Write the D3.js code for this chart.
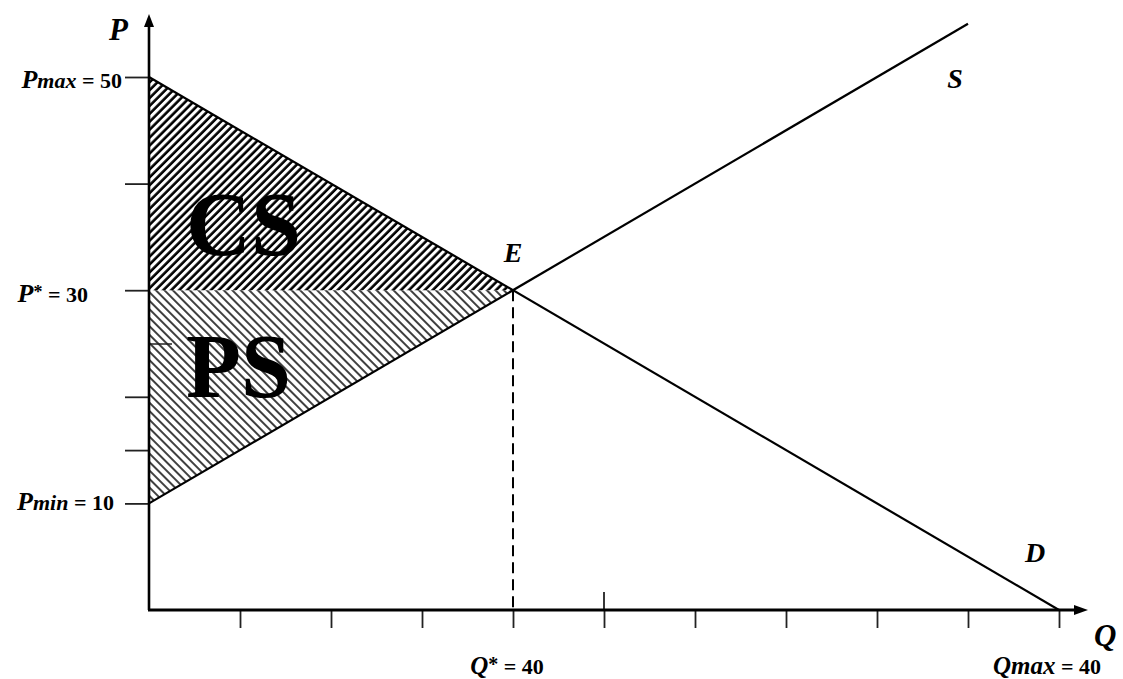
<!DOCTYPE html>
<html>
<head>
<meta charset="utf-8">
<script src="https://cdn.jsdelivr.net/npm/d3@7"></script>
<style>
  body { margin: 0; background: #fff; }
  svg { display: block; }
  text { font-family: "Liberation Serif", "DejaVu Serif", serif; fill: #000; }
</style>
</head>
<body>
<div id="chart"></div>
<script>
// 1: DATA
const demandLine = [{ q: 0, p: 50 }, { q: 100, p: 0 }];
const supplyLine = [{ q: 0, p: 10 }, { q: 90, p: 55 }];
const equilibrium = { q: 40, p: 30 };
const qTicks = [10, 20, 30, 40, 50, 60, 70, 80, 90, 100];
const pTicksOuter = [50, 40, 30, 20, 15, 10];
const pTicksInner = [25];
const csArea = [{ q: 0, p: 50 }, { q: 40, p: 30 }, { q: 0, p: 30 }];
const psArea = [{ q: 0, p: 30 }, { q: 40, p: 30 }, { q: 0, p: 10 }];

// 2: SIZE + SCALES
const width = 1123, height = 679;
const x = d3.scaleLinear().domain([0, 100]).range([149, 1059]);
const y = d3.scaleLinear().domain([0, 50]).range([610, 77]);

const svg = d3.select("#chart").append("svg")
    .attr("width", width)
    .attr("height", height);

// hatch patterns
const defs = svg.append("defs");
defs.append("pattern")
    .attr("id", "hatchCS")
    .attr("patternUnits", "userSpaceOnUse")
    .attr("width", 5.6).attr("height", 5.6)
    .attr("patternTransform", "rotate(45)")
    .append("line")
    .attr("x1", 1.5).attr("y1", 0).attr("x2", 1.5).attr("y2", 5.6)
    .attr("stroke", "#000").attr("stroke-width", 2.6);

defs.append("pattern")
    .attr("id", "hatchPS")
    .attr("patternUnits", "userSpaceOnUse")
    .attr("width", 6).attr("height", 6)
    .attr("patternTransform", "rotate(-45)")
    .append("line")
    .attr("x1", 1).attr("y1", 0).attr("x2", 1).attr("y2", 6)
    .attr("stroke", "#000").attr("stroke-width", 1.5);

const areaLine = d3.line().x(d => x(d.q)).y(d => y(d.p));

// 3: SURPLUS AREAS
svg.append("path")
    .attr("d", areaLine(csArea) + "Z")
    .attr("fill", "url(#hatchCS)");

svg.append("path")
    .attr("d", areaLine(psArea) + "Z")
    .attr("fill", "url(#hatchPS)");

// 4: AXES
// x ticks (below the axis)
svg.append("g")
    .attr("transform", `translate(0,${y(0)})`)
    .call(d3.axisBottom(x).tickValues(qTicks).tickSize(18).tickFormat(""))
    .call(g => g.select(".domain").remove())
    .call(g => g.selectAll("line").attr("stroke", "#222").attr("stroke-width", 1.8));

// the Q=50 tick also crosses above the axis
svg.append("line")
    .attr("x1", x(50)).attr("x2", x(50))
    .attr("y1", y(0) - 18).attr("y2", y(0))
    .attr("stroke", "#222").attr("stroke-width", 1.8);

// y ticks (left of axis)
svg.append("g")
    .attr("transform", `translate(${x(0)},0)`)
    .call(d3.axisLeft(y).tickValues(pTicksOuter).tickSize(24).tickFormat(""))
    .call(g => g.select(".domain").remove())
    .call(g => g.selectAll("line").attr("stroke", "#222").attr("stroke-width", 1.8));

svg.append("g")
    .attr("transform", `translate(${x(0)},0)`)
    .call(d3.axisRight(y).tickValues(pTicksInner).tickSize(23).tickFormat(""))
    .call(g => g.select(".domain").remove())
    .call(g => g.selectAll("line").attr("stroke", "#222").attr("stroke-width", 1.5));

// axis lines with arrows
svg.append("line")
    .attr("x1", x(0)).attr("y1", y(0))
    .attr("x2", x(0)).attr("y2", 22)
    .attr("stroke", "#000").attr("stroke-width", 2.6);
svg.append("path")
    .attr("d", `M${x(0)},14 L${x(0) - 5},27 L${x(0) + 5},27 Z`)
    .attr("fill", "#000");

svg.append("line")
    .attr("x1", x(0) - 1).attr("y1", y(0))
    .attr("x2", 1080).attr("y2", y(0))
    .attr("stroke", "#000").attr("stroke-width", 2.8);
svg.append("path")
    .attr("d", `M1088,${y(0)} L1074,${y(0) - 5} L1074,${y(0) + 5} Z`)
    .attr("fill", "#000");

// 5: SUPPLY / DEMAND
svg.append("path")
    .attr("d", areaLine(demandLine))
    .attr("fill", "none").attr("stroke", "#000").attr("stroke-width", 2.2);

svg.append("path")
    .attr("d", areaLine(supplyLine))
    .attr("fill", "none").attr("stroke", "#000").attr("stroke-width", 2.2);

// dashed guide from E down to the axis
svg.append("line")
    .attr("x1", x(equilibrium.q)).attr("y1", y(equilibrium.p))
    .attr("x2", x(equilibrium.q)).attr("y2", y(0))
    .attr("stroke", "#000").attr("stroke-width", 2)
    .attr("stroke-dasharray", "11,6");

// 6: LABELS
function label(xPos, yPos, parts, anchor) {
    const t = svg.append("text")
        .attr("x", xPos).attr("y", yPos)
        .attr("text-anchor", anchor || "start");
    parts.forEach(p => {
        const s = t.append("tspan").text(p.text)
            .style("font-size", p.size + "px")
            .style("font-weight", "bold")
            .style("font-style", p.italic ? "italic" : "normal");
        if (p.dy) s.attr("dy", p.dy);
    });
    return t;
}

label(128, 40, [{ text: "P", size: 31, italic: true }], "end");
label(1094, 646, [{ text: "Q", size: 31, italic: true }]);

label(122, 88, [
    { text: "P", size: 26, italic: true },
    { text: "max", size: 22, italic: true },
    { text: " = 50", size: 22 }
], "end");
label(88, 302, [
    { text: "P", size: 26, italic: true },
    { text: "*", size: 18, dy: -4 },
    { text: " = 30", size: 22, dy: 4 }
], "end");
label(114, 510, [
    { text: "P", size: 26, italic: true },
    { text: "min", size: 22, italic: true },
    { text: " = 10", size: 22 }
], "end");

label(x(equilibrium.q) - 6, 674, [
    { text: "Q", size: 25, italic: true },
    { text: "*", size: 20, dy: -3 },
    { text: " = 40", size: 22, dy: 3 }
], "middle");
label(1101, 674, [
    { text: "Qmax", size: 25, italic: true },
    { text: " = 40", size: 22 }
], "end");

label(x(equilibrium.q), 262, [{ text: "E", size: 28, italic: true }], "middle");
label(955, 88, [{ text: "S", size: 28, italic: true }], "middle");
label(1035, 562, [{ text: "D", size: 28, italic: true }], "middle");

svg.append("text")
    .attr("x", 186).attr("y", 255)
    .style("font-size", "90px").style("font-weight", "bold")
    .text("CS");
svg.append("text")
    .attr("x", 186).attr("y", 397)
    .style("font-size", "90px").style("font-weight", "bold")
    .text("PS");
</script>
</body>
</html>
